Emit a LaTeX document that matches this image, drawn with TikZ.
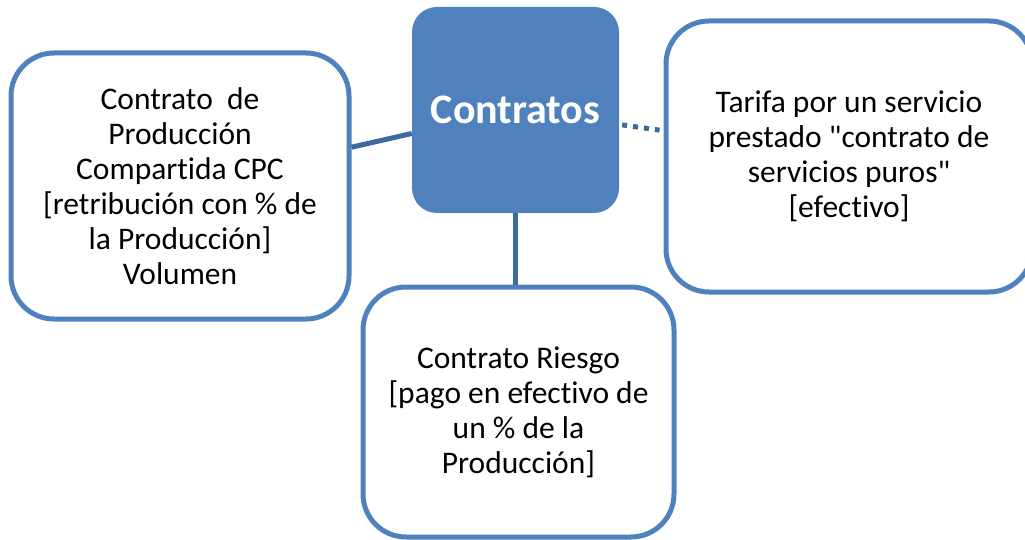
\documentclass[tikz,border=0pt]{standalone}
\usepackage{fontspec}
\setmainfont{Carlito}[Ligatures={TeX,NoCommon}]
\newcommand\straightq{\XeTeXglyph\XeTeXcharglyph"22\relax}
\definecolor{boxblue}{HTML}{4F81BD}
\definecolor{linkblue}{HTML}{3C6A9F}
\begin{document}
\begin{tikzpicture}[x=1pt,y=-1pt,
  leaf/.style={draw=boxblue, line width=5pt, fill=white, rounded corners=43pt,
    inner sep=0pt, align=center, font=\fontsize{31.5}{35}\selectfont},
  hub/.style={fill=boxblue, rounded corners=25pt, inner sep=0pt,
    minimum width=207pt, minimum height=206pt, text=white,
    font=\fontsize{42}{49}\selectfont\bfseries},
  link/.style={draw=linkblue, line width=5pt}]
\useasboundingbox (0,0) rectangle (1025,540);
\node[hub] (c) at (515.5,110) {Contratos};
\node[leaf, minimum width=338pt, minimum height=266pt] (l) at (180,186)
  {Contrato\ \ de\\Producción\\Compartida CPC\\{[}retribución con \% de\\la Producción]\\Volumen};
\node[leaf, minimum width=366pt, minimum height=271pt] (r) at (849,156.5)
  {Tarifa por un servicio\\prestado \straightq contrato de\\servicios puros\straightq\\{[}efectivo]};
\node[leaf, minimum width=311pt, minimum height=250pt] (b) at (518.5,412)
  {Contrato Riesgo\\{[}pago en efectivo de\\un \% de la\\Producción]};
\draw[link] (c) -- (l);
\draw[link] (c.south) -- (c.south |- b.north);
\draw[link, dash pattern=on 5pt off 6pt, shorten <=3pt, shorten >=4pt] (c) -- (r);
\end{tikzpicture}
\end{document}
